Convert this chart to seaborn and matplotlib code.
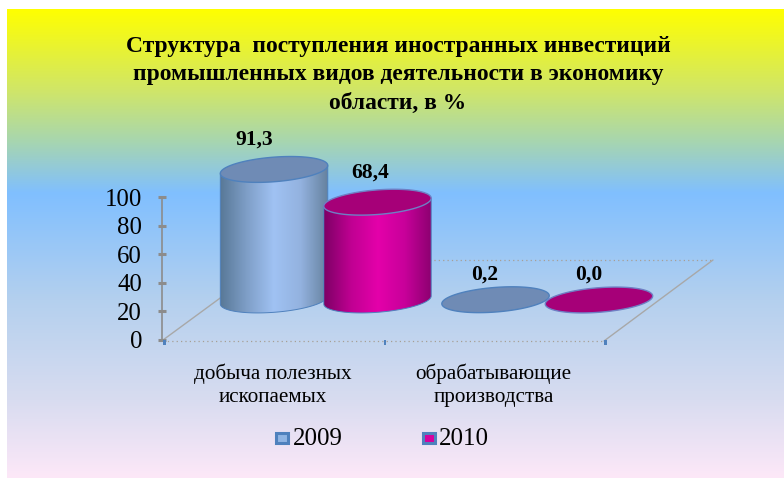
import numpy as np
import pandas as pd
import matplotlib
matplotlib.use('Agg')
import matplotlib.pyplot as plt
import seaborn as sns
from matplotlib.colors import LinearSegmentedColormap
from matplotlib.patches import Polygon, Rectangle

sns.set_style('white')
plt.rcParams['font.family'] = ['Liberation Serif', 'DejaVu Serif']

title_lines = ['Структура  поступления иностранных инвестиций',
               'промышленных видов деятельности в экономику',
               'области, в %']
categories = ['добыча полезных\nископаемых', 'обрабатывающие\nпроизводства']
years = ['2009', '2010']
values_2009 = [91.3, 0.2]
values_2010 = [68.4, 0.0]
labels_2009 = ['91,3', '0,2']
labels_2010 = ['68,4', '0,0']
y_ticks = [0, 20, 40, 60, 80, 100]

W, H = 784, 478
body_colors = {'2009': ['#587897', '#7f9fc8', '#a0c2f3', '#93b2df', '#66829f'],
               '2010': ['#7e0066', '#c00092', '#e400aa', '#c8009a', '#8c0070']}
top_colors = {'2009': '#6f8bb5', '2010': '#a60078'}
edge_colors = {'2009': '#4f81bd', '2010': '#6f7fc4'}
legend_fill = {'2009': '#8fb4e3', '2010': '#d6009e'}
# data labels sit a little left of the cylinder centres, in category units
label_shift = [-0.09, -0.035, -0.05, -0.045]


def px_axes(fig, left, right, top, bottom, **kw):
    # axes placed by pixel edges, y counted from the top of the picture
    return fig.add_axes([left / W, 1 - bottom / H, (right - left) / W, (bottom - top) / H], **kw)


def draw_cylinder(ax, bar, year, label, shift):
    w, h = bar.get_width(), bar.get_height()
    x0 = bar.get_x() - (0.018 if year == '2010' else 0)
    cx, a = x0 + w / 2, w / 2
    b, tilt = 8.6, 2.8
    t = np.linspace(0, 2 * np.pi, 180)
    ex, ey = a * np.cos(t), b * np.sin(t) + tilt * np.cos(t)

    if h > 1:
        low = (t >= np.pi) & (t <= 2 * np.pi)
        side_x = np.r_[cx + ex[low], cx + a, cx - a]
        side_y = np.r_[ey[low], h + tilt, h - tilt]
        grad = LinearSegmentedColormap.from_list('c', body_colors[year])
        im = ax.imshow(np.linspace(0, 1, 200).reshape(1, -1), cmap=grad, aspect='auto',
                       extent=[x0, x0 + w, -b - tilt, h + b + tilt], zorder=3)
        side = Polygon(np.c_[side_x, side_y], closed=True, fc='none',
                       ec=edge_colors['2009'], lw=0.7, zorder=3, clip_on=False)
        ax.add_patch(side)
        im.set_clip_path(side)
        im.set_clip_box(ax.figure.bbox)  # base of the cylinder hangs below the axes
    ax.add_patch(Polygon(np.c_[cx + ex, h + ey], closed=True, fc=top_colors[year],
                         ec=edge_colors[year], lw=1.0, zorder=4, clip_on=False))
    ax.text(cx + shift, h + (21 if h > 1 else 17.5), label, ha='center', va='center',
            fontsize=15.5, fontweight='bold', color='black', zorder=5)


fig = plt.figure(figsize=(W / 100, H / 100), dpi=100, facecolor='white')

# background and floor work in plain picture pixels
bg = fig.add_axes([0, 0, 1, 1])
stops = [(9, '#ffff00'), (90, '#d0e668'), (140, '#a8d6ae'), (193, '#80bfff'),
         (300, '#b4d0ee'), (400, '#d8dcf0'), (478, '#fde8f8')]
ramp = LinearSegmentedColormap.from_list(
    'bg', [((p - 9) / (478 - 9), c) for p, c in stops], N=512)
bg.imshow(np.linspace(0, 1, 512).reshape(-1, 1), cmap=ramp, aspect='auto',
          extent=[7, W, 478, 9], zorder=0)
bg.set_xlim(0, W)
bg.set_ylim(H, 0)
bg.axis('off')
bg.plot([163, 604], [341, 341], color='#a79f95', lw=0.9, ls=(0, (1, 2.5)), zorder=1)
bg.plot([272, 713], [260, 260], color='#a79f95', lw=0.9, ls=(0, (1, 2.5)), zorder=1)
bg.plot([163, 272], [340, 260], color='#a8a8a8', lw=1.0, zorder=1)
bg.plot([604, 713], [341, 260], color='#a8a8a8', lw=1.0, zorder=1)

for i, line in enumerate(title_lines):
    bg.text(398, 46 + i * 28.5, line, ha='center', va='center', fontsize=16.9,
            fontweight='bold', color='black')

# front axis: value scale and category scale sit on the front edge of the floor
ax = px_axes(fig, 163, 604, 197, 340)
ax.patch.set_alpha(0)
ax.set_xlim(-0.5, 1.5)
ax.set_ylim(0, 100)
ax.set_yticks(y_ticks)
ax.set_yticklabels([str(v) for v in y_ticks])
ax.set_xticks([])
sns.despine(ax=ax, left=False, top=True, right=True, bottom=True)
ax.spines['left'].set_color('#8c8c8c')
ax.spines['left'].set_linewidth(1.2)
ax.spines['left'].set_position(('outward', 1))
ax.tick_params(axis='y', direction='inout', length=6, width=2.2, color='#8c8c8c',
               pad=11, left=True, labelsize=17.8, labelcolor='black')
for tick in [-0.5, 0.5, 1.5]:
    ax.add_patch(Rectangle((tick, -3.5), 0.012, 3.5, fc='#4f81bd', ec='none', clip_on=False))
for i, cat in enumerate(categories):
    ax.text(i, -16.5, cat, ha='center', va='top', fontsize=15.2, linespacing=1.26,
            color='black', clip_on=False)

# bars stand in the middle of the floor depth, same scales shifted back
bars_ax = px_axes(fig, 217, 660, 197 - 40, 340 - 40)
bars_ax.patch.set_alpha(0)
df = pd.DataFrame({'cat': categories * 2,
                   'year': [years[0]] * 2 + [years[1]] * 2,
                   'value': values_2009 + values_2010})
sns.barplot(data=df, x='cat', y='value', hue='year', hue_order=years, width=0.97, gap=0,
            legend=False, ax=bars_ax)
bars = sorted(bars_ax.patches, key=lambda p: p.get_x())
bar_years = [years[0], years[1]] * 2
bar_labels = [labels_2009[0], labels_2010[0], labels_2009[1], labels_2010[1]]
for bar, year, label, shift in zip(bars, bar_years, bar_labels, label_shift):
    bar.set_visible(False)
    draw_cylinder(bars_ax, bar, year, label, shift)
bars_ax.set_xlim(-0.5, 1.5)
bars_ax.set_ylim(0, 100)
bars_ax.axis('off')

# legend keys and labels
for x_key, x_txt, year in [(274, 293, years[0]), (421, 439, years[1])]:
    bg.add_patch(Rectangle((x_key + 2, 433), 12, 10, fc=legend_fill[year], ec='#4f81bd',
                           lw=2.2, zorder=3))
    bg.text(x_txt, 439, year, ha='left', va='center', fontsize=18, color='black')

fig.savefig('out.png', dpi=100, facecolor='white')
